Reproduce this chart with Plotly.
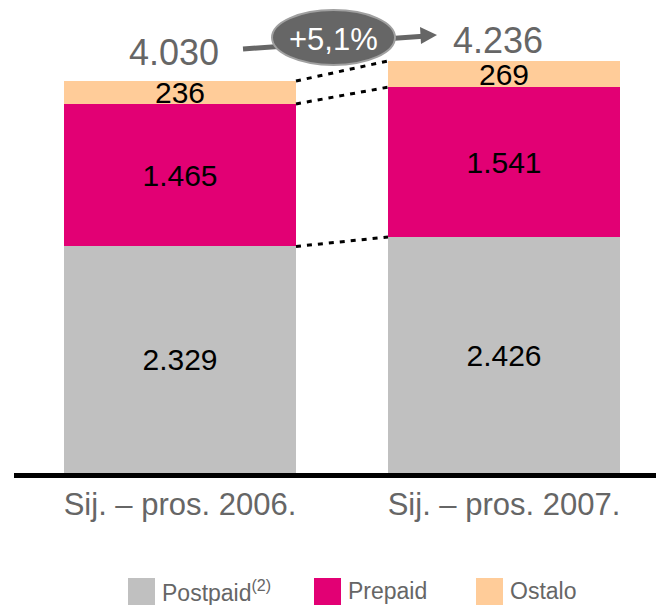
import plotly.graph_objects as go

categories = ["Sij. – pros. 2006.", "Sij. – pros. 2007."]
series_names = ["Postpaid<sup>(2)</sup>", "Prepaid", "Ostalo"]
postpaid = [2329, 2426]
prepaid = [1465, 1541]
ostalo = [236, 269]
series_values = [postpaid, prepaid, ostalo]
colors = ["#c0c0c0", "#e20074", "#ffcc99"]

FONT = "Liberation Sans, Arial, sans-serif"
GRAY = "#666666"

W, H = 656, 605
L, R, T, B = 14, 0, 0, 132
PW = W - L - R
PH = H - T - B
BAR_W = 0.716

def px(xp):
    return (xp - L) / PW

def py(yp):
    return (T + PH - yp) / PH

x = list(range(len(categories)))
totals = [sum(v[i] for v in series_values) for i in x]

fig = go.Figure()
for name, vals, col in zip(series_names, series_values, colors):
    fig.add_trace(go.Bar(
        x=x, y=vals, name=name, marker=dict(color=col, line=dict(width=0)),
        width=BAR_W, texttemplate="%{y:,.0f}", textposition="inside",
        insidetextanchor="middle", textangle=0, constraintext="none",
        textfont=dict(family=FONT, size=30, color="black"),
        showlegend=False, hoverinfo="skip",
    ))

# dashed connectors between stacked tops
cum = [0, 0]
for vals in series_values:
    cum = [cum[i] + vals[i] for i in x]
    fig.add_trace(go.Scatter(
        x=[x[0] + BAR_W / 2, x[1] - BAR_W / 2], y=cum, mode="lines",
        line=dict(color="black", width=3, dash="5px,6px"),
        showlegend=False, hoverinfo="skip",
    ))

annotations = []
yshifts = [6, -2]
for i in x:
    annotations.append(dict(
        x=i, y=totals[i], xref="x", yref="y", text=f"{totals[i]:,}".replace(",", "."),
        showarrow=False, xshift=-6, yshift=yshifts[i], yanchor="bottom",
        font=dict(family=FONT, size=36, color=GRAY),
    ))

growth = (totals[1] / totals[0] - 1) * 100
growth_txt = ("+" if growth >= 0 else "") + f"{growth:.1f}".replace(".", ",") + "%"

shapes = [
    dict(type="line", xref="paper", yref="paper", x0=px(243), y0=py(49), x1=px(423), y1=py(36.2),
         line=dict(color=GRAY, width=5), layer="above"),
    dict(type="path", xref="paper", yref="paper",
         path=f"M {px(437)},{py(35)} L {px(420)},{py(27)} L {px(421)},{py(44)} Z",
         fillcolor=GRAY, line=dict(width=0), layer="above"),
    dict(type="circle", xref="paper", yref="paper", x0=px(272), x1=px(395), y0=py(65), y1=py(10),
         fillcolor=GRAY, line=dict(color="#a0a0a0", width=2), layer="above"),
]
annotations.append(dict(
    x=px(333.5), y=py(39), xref="paper", yref="paper", text=growth_txt, showarrow=False,
    font=dict(family=FONT, size=31, color="white"), xanchor="center", yanchor="middle",
))

# legend
leg_x = [128, 314, 476]
for name, col, lx in zip(series_names, colors, leg_x):
    shapes.append(dict(type="rect", xref="paper", yref="paper", x0=px(lx), x1=px(lx + 27),
                       y0=py(605), y1=py(578), fillcolor=col, line=dict(width=0)))
    annotations.append(dict(x=px(lx + 32), y=py(591), xref="paper", yref="paper", text=name,
                            showarrow=False, xanchor="left", yanchor="middle",
                            font=dict(family=FONT, size=23, color=GRAY)))

fig.update_layout(
    width=W, height=H, margin=dict(l=L, r=R, t=T, b=B),
    barmode="stack", separators=",.",
    plot_bgcolor="white", paper_bgcolor="white",
    xaxis=dict(range=[(L - 180) / 324, (L - 180) / 324 + PW / 324],
               tickvals=x, ticktext=categories, showline=True, linecolor="black", linewidth=5,
               showgrid=False, zeroline=False, ticks="",
               tickfont=dict(family=FONT, size=31, color=GRAY)),
    yaxis=dict(range=[0, PH / (392 / 4030)], visible=False),
    shapes=shapes, annotations=annotations, showlegend=False,
)

fig.write_html("out.html", config={"displayModeBar": False},
               post_script="document.body.style.margin='0';document.body.style.overflow='hidden';")
